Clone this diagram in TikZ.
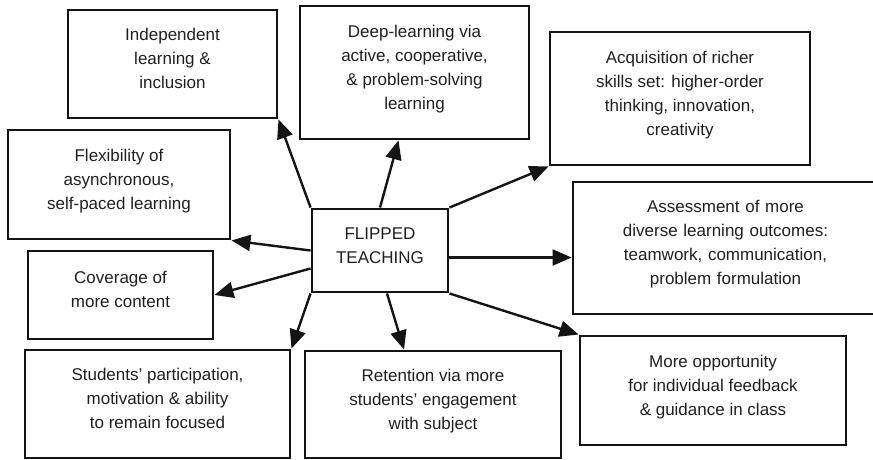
\documentclass[tikz,border=0pt]{standalone}
\usepackage{fontspec}
\setmainfont{Liberation Sans}
\usetikzlibrary{arrows.meta,calc}
\newcommand{\boxtext}[1]{\raisebox{4pt}[\height][\depth]{\begin{tabular}{@{}c@{}}#1\end{tabular}}}
\begin{document}
\begin{tikzpicture}[x=1pt,y=-1pt,
  box/.style={draw=black!92, line width=2.9pt, inner sep=0pt, align=center,
    font=\fontsize{17}{24}\selectfont, text=black!88},
  arr/.style={draw=black!92, line width=2.4pt, -{Triangle[length=19pt,width=16pt]}}]
\useasboundingbox (0,0) rectangle (873,459);
\node[box, minimum width=209pt, minimum height=108pt] (indep) at (172.5,64) {\boxtext{Independent\\learning \&\\inclusion}};
\node[box, minimum width=229pt, minimum height=133pt] (deep) at (414.5,72.5) {\boxtext{Deep-learning via\\active, cooperative,\\\& problem-solving\\learning}};
\node[box, minimum width=260pt, minimum height=133pt] (acq) at (680,98.5) {\boxtext{Acquisition of richer\\skills set: higher-order\\thinking, innovation,\\creativity}};
\node[box, minimum width=305pt, minimum height=132pt, text width=290pt] (assess) at (725.5,248) {\boxtext{Assessment of more\\diverse learning outcomes:\\teamwork, communication,\\problem formulation}};
\node[box, minimum width=222pt, minimum height=109pt] (flex) at (119,184.5) {\boxtext{Flexibility of\\asynchronous,\\self-paced learning}};
\node[box, minimum width=185pt, minimum height=88pt] (cov) at (120.5,295) {\boxtext{Coverage of\\more content}};
\node[box, minimum width=136pt, minimum height=83pt] (flip) at (380,250.5) {\boxtext{FLIPPED\\TEACHING}};
\node[box, minimum width=265pt, minimum height=108pt] (stud) at (157.5,404) {\boxtext{Students’ participation,\\motivation \& ability\\to remain focused}};
\node[box, minimum width=256pt, minimum height=107pt] (ret) at (433,404.5) {\boxtext{Retention via more\\students’ engagement\\with subject}};
\node[box, minimum width=266pt, minimum height=109pt] (more) at (713,390.5) {\boxtext{More opportunity\\for individual feedback\\\& guidance in class}};
\draw[arr] (flip.north west) -- (indep.south east);
\draw[arr] (flip.north) -- ([xshift=-16pt]deep.south);
\draw[arr] (flip.north east) -- (acq.south west);
\draw[arr] (flip.west) -- (flex.south east);
\draw[arr] ([yshift=-18pt]flip.west) -- (cov.east);
\draw[arr] ([yshift=-7pt]flip.east) -- ([yshift=-7pt]flip.east -| assess.west);
\draw[arr] (flip.south west) -- (stud.north east);
\draw[arr] ([xshift=7pt]flip.south) -- ([xshift=-29pt]ret.north);
\draw[arr] (flip.south east) -- (more.north west);
\end{tikzpicture}
\end{document}
